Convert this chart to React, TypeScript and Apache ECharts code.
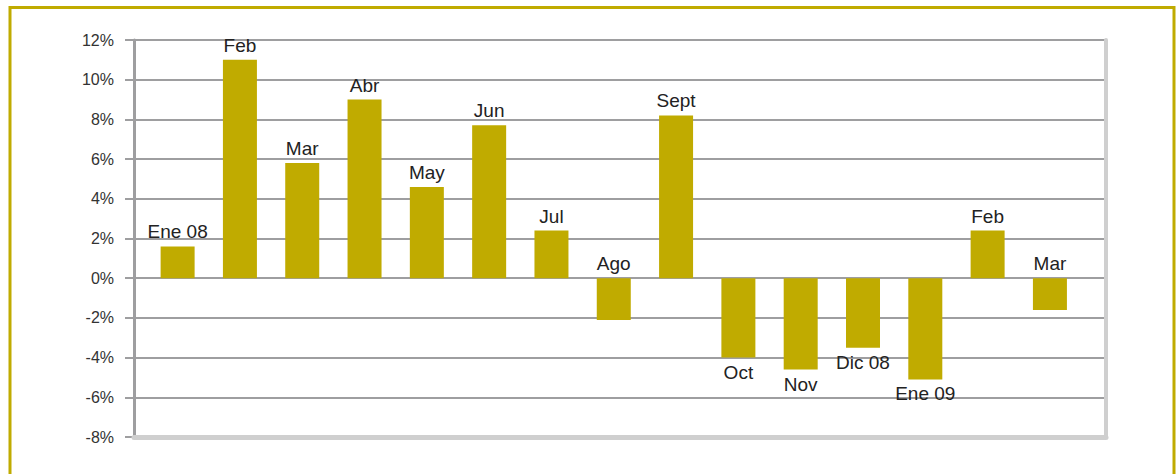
import React, { useEffect, useRef } from "react";
import * as echarts from "echarts";

const months = ["Ene 08", "Feb", "Mar", "Abr", "May", "Jun", "Jul", "Ago", "Sept", "Oct", "Nov", "Dic 08", "Ene 09", "Feb", "Mar"];
const values = [1.6, 11.0, 5.8, 9.0, 4.6, 7.7, 2.4, -2.1, 8.2, -4.0, -4.6, -3.5, -5.1, 2.4, -1.6];
// negative bars whose name is written above the bar in the original
const labelAboveIdx = [7, 14];

const yMin = -8;
const yMax = 12;
const yStep = 2;

const GOLD = "#c0ab00";
const GRID = "#9e9ea0";
const LIGHT = "#cfcfcf";
const FONT = "'Liberation Sans', Arial, sans-serif";

export default function App() {
  const ref = useRef<HTMLDivElement>(null);

  useEffect(() => {
    document.body.style.margin = "0";
    if (!ref.current) return;
    const chart = echarts.init(ref.current, null, { renderer: "svg" });

    const data = values.map((v, i) => ({
      value: [i, v],
      label: {
        position: v >= 0 || labelAboveIdx.includes(i) ? "top" : "bottom",
      },
    }));

    chart.setOption({
      animation: false,
      backgroundColor: "#ffffff",
      grid: { left: 134, right: 70, top: 40, height: 397, containLabel: false },
      xAxis: {
        type: "value",
        min: -0.7,
        max: 14.9,
        position: "bottom",
        z: 3,
        axisLine: { show: true, onZero: false, lineStyle: { color: LIGHT, width: 5 } },
        axisTick: { show: false },
        axisLabel: { show: false },
        splitLine: { show: false },
      },
      yAxis: [
        {
          type: "value",
          min: yMin,
          max: yMax,
          interval: yStep,
          position: "left",
          axisLine: { show: true, onZero: false, lineStyle: { color: GRID, width: 3 } },
          axisTick: { show: true, length: 9, lineStyle: { color: GRID, width: 2 } },
          axisLabel: {
            formatter: "{value}%",
            color: "#333",
            fontSize: 16,
            fontFamily: FONT,
            margin: 20,
          },
          splitLine: { show: true, lineStyle: { color: GRID, width: 2 } },
        },
        {
          type: "value",
          min: yMin,
          max: yMax,
          interval: yStep,
          position: "right",
          axisLine: { show: true, onZero: false, lineStyle: { color: LIGHT, width: 4 } },
          axisTick: { show: false },
          axisLabel: { show: false },
          splitLine: { show: false },
        },
      ],
      series: [
        {
          type: "bar",
          data,
          barWidth: 34,
          itemStyle: { color: GOLD },
          z: 2,
          label: {
            show: true,
            formatter: (p: any) => months[p.dataIndex],
            fontSize: 19,
            fontFamily: FONT,
            color: "#222",
            distance: 5,
          },
        },
      ],
      graphic: [
        {
          type: "rect",
          silent: true,
          shape: { x: 10, y: 7.5, width: 1164, height: 490 },
          style: { fill: "none", stroke: GOLD, lineWidth: 3 },
        },
      ],
    });

    return () => chart.dispose();
  }, []);

  return <div ref={ref} style={{ width: 1176, height: 474 }} />;
}
